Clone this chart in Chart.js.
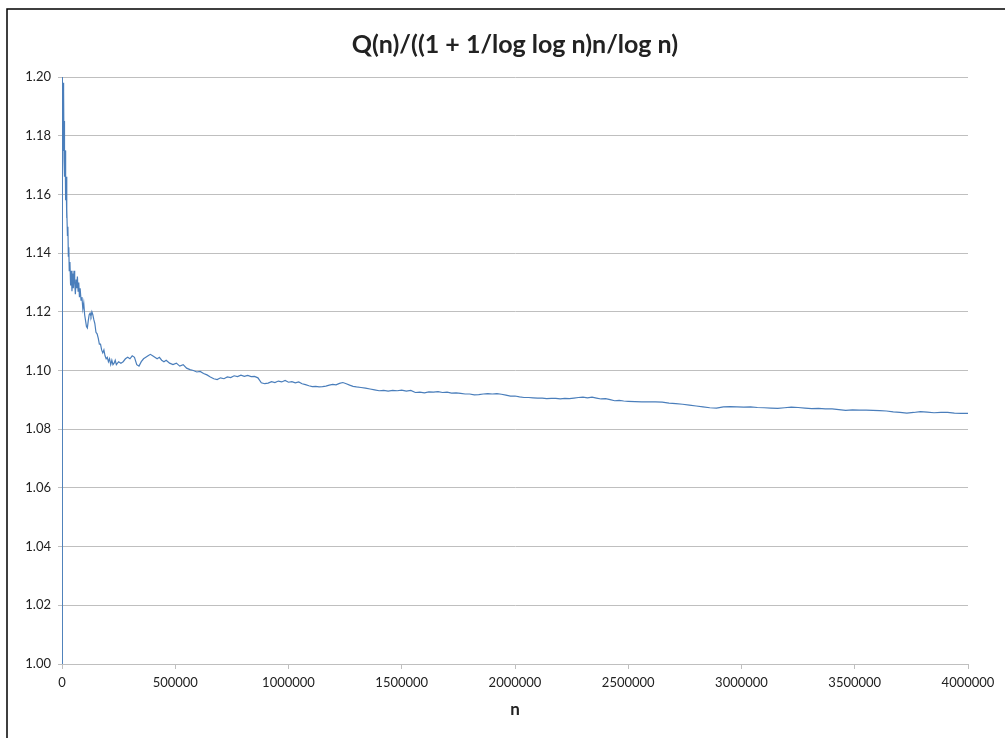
<!DOCTYPE html>
<html>
<head>
<meta charset="utf-8">
<script src="https://cdn.jsdelivr.net/npm/chart.js@4/dist/chart.umd.min.js"></script>
<style>
  html, body { margin: 0; padding: 0; background: #ffffff; }
  #wrap { width: 1005px; height: 738px; position: relative; }
</style>
</head>
<body>
<div id="wrap"><canvas id="c" width="1005" height="738"></canvas></div>
<script>
// n values along the horizontal axis
const nValues = [
  10, 20, 100, 500, 1000, 2000, 3000, 4000, 5000, 6000, 7000, 8000, 9000, 10000,
  12000, 14000, 16000, 18000, 20000, 22000, 24000, 26000, 28000, 30000, 32000,
  35000, 38000, 41000, 44000, 47000, 50000, 53000, 56000, 59000, 62000, 65000,
  68000, 71000, 74000, 77000, 80000, 84000, 88000, 92000, 96000, 100000, 104000,
  108000, 112000, 116000, 120000, 124000, 128000, 132000, 136000, 140000, 145000,
  150000, 155000, 160000, 165000, 170000, 175000, 180000, 185000, 190000, 195000,
  200000, 205000, 210000, 215000, 220000, 225000, 230000, 235000, 240000, 250000,
  260000, 270000, 280000, 290000, 300000, 310000, 320000, 330000, 340000, 350000,
  360000, 370000, 380000, 390000, 400000, 410000, 420000, 430000, 440000, 450000,
  460000, 475000, 490000, 505000, 520000, 535000, 550000, 565000, 580000, 595000,
  610000, 625000, 640000, 655000, 670000, 685000, 700000, 715000, 730000, 745000,
  760000, 775000, 790000, 805000, 820000, 835000, 850000, 865000, 880000, 895000,
  910000, 925000, 940000, 955000, 970000, 985000, 1000000, 1015000, 1030000,
  1045000, 1060000, 1075000, 1090000, 1105000, 1120000, 1135000, 1150000, 1165000,
  1180000, 1195000, 1210000, 1225000, 1240000, 1255000, 1270000, 1285000, 1300000,
  1320000, 1340000, 1360000, 1380000, 1400000, 1420000, 1440000, 1460000, 1480000,
  1500000, 1520000, 1540000, 1560000, 1580000, 1600000, 1620000, 1640000, 1660000,
  1680000, 1700000, 1720000, 1740000, 1760000, 1780000, 1800000, 1820000, 1840000,
  1860000, 1880000, 1900000, 1920000, 1940000, 1960000, 1980000, 2000000, 2020000,
  2040000, 2060000, 2080000, 2100000, 2120000, 2140000, 2160000, 2180000, 2200000,
  2220000, 2240000, 2260000, 2280000, 2300000, 2320000, 2340000, 2360000, 2380000,
  2400000, 2420000, 2440000, 2460000, 2480000, 2500000, 2530000, 2560000, 2590000,
  2620000, 2650000, 2680000, 2710000, 2740000, 2770000, 2800000, 2830000, 2860000,
  2890000, 2920000, 2950000, 2980000, 3010000, 3040000, 3070000, 3100000, 3130000,
  3160000, 3190000, 3220000, 3250000, 3280000, 3310000, 3340000, 3370000, 3400000,
  3430000, 3460000, 3490000, 3520000, 3550000, 3580000, 3610000, 3640000, 3670000,
  3700000, 3730000, 3760000, 3790000, 3820000, 3850000, 3880000, 3910000, 3940000,
  3970000, 4000000
];

// Q(n) / ((1 + 1/log log n) n / log n) at each n
const ratioValues = [
  0.90, 1.35, 1.25, 1.21, 1.19, 1.205, 1.17, 1.20, 1.175, 1.198, 1.18, 1.195, 1.172, 1.185,
  1.166, 1.175, 1.158, 1.166, 1.152, 1.155, 1.146, 1.149, 1.139, 1.142, 1.134,
  1.137, 1.129, 1.134, 1.127, 1.133, 1.128, 1.134, 1.130, 1.126, 1.131, 1.128,
  1.132, 1.127, 1.130, 1.125, 1.128, 1.124, 1.125, 1.121, 1.123, 1.119, 1.117,
  1.115, 1.1145, 1.117, 1.119, 1.1195, 1.1185, 1.120, 1.119, 1.1175, 1.116,
  1.113, 1.1125, 1.111, 1.109, 1.109, 1.107, 1.106, 1.107, 1.105, 1.104,
  1.1045, 1.103, 1.104, 1.102, 1.1035, 1.102, 1.1025, 1.1035, 1.102, 1.103,
  1.1025, 1.103, 1.104, 1.1045, 1.104, 1.105, 1.1045, 1.102, 1.1015, 1.103,
  1.104, 1.1045, 1.105, 1.1055, 1.105, 1.1045, 1.104, 1.1045, 1.1035, 1.103,
  1.1035, 1.1025, 1.102, 1.1025, 1.1015, 1.102, 1.1008, 1.1003, 1.1000, 1.0995,
  1.0997, 1.0990, 1.0985, 1.0978, 1.0972, 1.0969, 1.0975, 1.0972, 1.0978, 1.0976,
  1.0982, 1.0979, 1.0984, 1.0980, 1.0983, 1.0979, 1.0980, 1.0975, 1.0958, 1.0955,
  1.0957, 1.0962, 1.0959, 1.0964, 1.0961, 1.0966, 1.0960, 1.0962, 1.0958,
  1.0961, 1.0955, 1.0952, 1.0948, 1.0945, 1.0946, 1.0944, 1.0945, 1.0947,
  1.0950, 1.0953, 1.0951, 1.0956, 1.0959, 1.0955, 1.0950, 1.0946, 1.0944,
  1.0942, 1.0940, 1.0937, 1.0934, 1.0931, 1.0932, 1.0930, 1.0932, 1.0931,
  1.0933, 1.0930, 1.0932, 1.0925, 1.0926, 1.0924, 1.0927, 1.0926, 1.0928,
  1.0925, 1.0926, 1.0923, 1.0924, 1.0922, 1.0920, 1.0920, 1.0917, 1.0918,
  1.0920, 1.0921, 1.0920, 1.0921, 1.0919, 1.0916, 1.0913, 1.0913, 1.0910,
  1.0908, 1.0908, 1.0907, 1.0906, 1.0906, 1.0904, 1.0905, 1.0905, 1.0903,
  1.0905, 1.0904, 1.0906, 1.0908, 1.0909, 1.0907, 1.0909, 1.0906, 1.0903,
  1.0904, 1.0901, 1.0897, 1.0898, 1.0896, 1.0895, 1.0894, 1.0893, 1.0893,
  1.0893, 1.0892, 1.0889, 1.0887, 1.0885, 1.0882, 1.0879, 1.0876, 1.0873,
  1.0872, 1.0876, 1.0877, 1.0876, 1.0875, 1.0876, 1.0874, 1.0873, 1.0872,
  1.0871, 1.0873, 1.0875, 1.0874, 1.0872, 1.0870, 1.0871, 1.0869, 1.0869,
  1.0867, 1.0864, 1.0866, 1.0865, 1.0865, 1.0864, 1.0863, 1.0862, 1.0859,
  1.0857, 1.0855, 1.0857, 1.0860, 1.0858, 1.0856, 1.0857, 1.0857, 1.0855,
  1.0854, 1.0854
];

// axis tick positions and labels
const xTicks = [0, 500000, 1000000, 1500000, 2000000, 2500000, 3000000, 3500000, 4000000];
const yTicks = [1.00, 1.02, 1.04, 1.06, 1.08, 1.10, 1.12, 1.14, 1.16, 1.18, 1.20];

const chartTitle = 'Q(n)/((1 + 1/log log n)n/log n)';
const xAxisTitle = 'n';

const points = nValues.map((n, i) => ({ x: n, y: ratioValues[i] }));

// thin dark frame along the top and left edges of the chart
const framePlugin = {
  id: 'frame',
  afterDraw(chart) {
    const ctx = chart.ctx;
    ctx.save();
    ctx.strokeStyle = '#000000';
    ctx.lineWidth = 1.5;
    ctx.beginPath();
    ctx.moveTo(7, 738);
    ctx.lineTo(7, 9);
    ctx.lineTo(1005, 9);
    ctx.stroke();
    ctx.restore();
  }
};

const textColor = '#222222';
const gridColor = '#bfbfbf';
const fontFamily = 'Lato, "Open Sans", "Liberation Sans", sans-serif';

new Chart(document.getElementById('c'), {
  type: 'line',
  data: {
    datasets: [{
      data: points,
      borderColor: '#4a7ebb',
      borderWidth: 1.2,
      pointRadius: 0,
      tension: 0,
      fill: false
    }]
  },
  options: {
    responsive: false,
    animation: false,
    events: [],
    layout: { padding: { left: 0, right: 37, top: 0, bottom: 0 } },
    plugins: {
      legend: { display: false },
      tooltip: { enabled: false },
      title: {
        display: true,
        fullSize: false,
        text: chartTitle,
        color: textColor,
        font: { family: fontFamily, size: 25, weight: 'bold' },
        padding: { top: 30, bottom: 17 }
      }
    },
    scales: {
      x: {
        type: 'linear',
        min: 0,
        max: 4000000,
        afterBuildTicks(scale) { scale.ticks = xTicks.map(v => ({ value: v })); },
        afterFit(scale) { scale.height = 74; },
        ticks: {
          color: textColor,
          font: { family: fontFamily, size: 13 },
          padding: 6,
          maxRotation: 0,
          autoSkip: false,
          callback: v => String(v)
        },
        grid: {
          drawOnChartArea: false,
          drawTicks: true,
          tickLength: 5,
          color: gridColor
        },
        border: { display: true, color: gridColor, width: 1 },
        title: {
          display: true,
          text: xAxisTitle,
          color: textColor,
          font: { family: fontFamily, size: 17, weight: 'bold' },
          padding: { top: 0, bottom: 18 }
        }
      },
      y: {
        type: 'linear',
        min: 1.0,
        max: 1.2,
        afterBuildTicks(scale) { scale.ticks = yTicks.map(v => ({ value: v })); },
        afterFit(scale) { scale.width = 62; },
        ticks: {
          color: textColor,
          font: { family: fontFamily, size: 13 },
          padding: 7,
          callback: v => Number(v).toFixed(2)
        },
        grid: {
          color: gridColor,
          lineWidth: 1,
          drawTicks: true,
          tickLength: 4
        },
        border: { display: true, color: gridColor, width: 1 }
      }
    }
  },
  plugins: [framePlugin]
});
</script>
</body>
</html>
